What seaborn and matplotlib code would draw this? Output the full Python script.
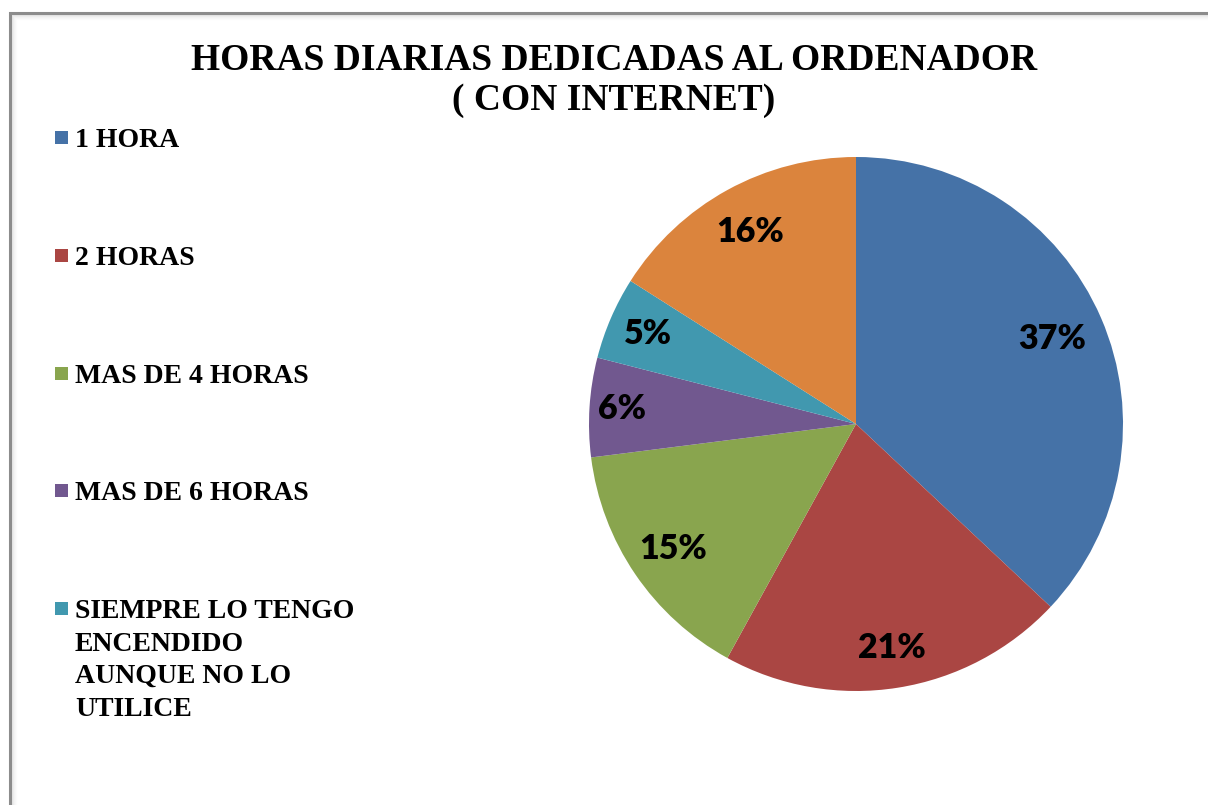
import matplotlib
matplotlib.use("Agg")
import matplotlib.pyplot as plt
import seaborn as sns
import numpy as np
from matplotlib.patches import Rectangle

categories = ["1 HORA", "2 HORAS", "MAS DE 4 HORAS", "MAS DE 6 HORAS",
              "SIEMPRE LO TENGO\nENCENDIDO\nAUNQUE NO LO\nUTILICE", "MAS DE 8 HORAS"]
values = [37, 21, 15, 6, 5, 16]
colors = ["#4572A7", "#AA4643", "#89A54E", "#71588F", "#4198AF", "#DB843D"]
title = "HORAS DIARIAS DEDICADAS AL ORDENADOR\n( CON INTERNET)"
legend_count = 5

# label placement style (Excel "best fit" look)
label_radius = [0.80, 0.85, 0.83, 0.88, 0.85, 0.82]

sns.set_theme(style="white")
palette = sns.color_palette(colors)

W, H = 1208, 805
fig = plt.figure(figsize=(W / 100, H / 100), dpi=100)
fig.patch.set_facecolor("white")

def fx(px):
    return px / W

def fy(py):
    return 1 - py / H

# frame with soft inner shadow
for i, a in enumerate([0.10, 0.07, 0.05, 0.03, 0.02, 0.01]):
    fig.add_artist(Rectangle((fx(11 + i), -0.1), 1.2, fy(14 + i) + 0.1,
                             transform=fig.transFigure, fill=False,
                             edgecolor=(0, 0, 0, a), linewidth=1.0))
fig.add_artist(Rectangle((fx(10), -0.1), 1.2, fy(13) + 0.1,
                         transform=fig.transFigure, fill=False,
                         edgecolor="#8c8c8c", linewidth=2.2))

cx, cy, r = 856, 424, 267
ax = fig.add_axes([(cx - r) / W, (H - cy - r) / H, 2 * r / W, 2 * r / H])
wedges, texts = ax.pie(values, colors=palette, startangle=90, counterclock=False,
                       labels=[f"{v}%" for v in values], labeldistance=0.82,
                       wedgeprops=dict(linewidth=0))
for t, w, d in zip(texts, wedges, label_radius):
    mid = np.deg2rad((w.theta1 + w.theta2) / 2)
    t.set_position((d * np.cos(mid), d * np.sin(mid)))
    t.set_fontfamily("Lato")
    t.set_fontweight("heavy")
    t.set_fontsize(24.5)
    t.set_color("black")
    t.set_ha("center")
    t.set_va("center")
ax.set_xlim(-1.0, 1.0)
ax.set_ylim(-1.0, 1.0)
ax.set_aspect("equal")
ax.axis("off")

title_lines = title.split("\n")
for k, line in enumerate(title_lines):
    fig.text(fx(614), fy(70 + 40 * k), line, ha="center", va="baseline",
             fontfamily="Liberation Serif", fontweight="bold", fontsize=27,
             color="black")

# legend (only the first entries are visible in the original chart)
for i in range(legend_count):
    base = 147 + 117.8 * i
    w = wedges[i]
    fig.add_artist(Rectangle((fx(55), fy(base - 3)), 13 / W, 13 / H,
                             transform=fig.transFigure,
                             facecolor=w.get_facecolor(), edgecolor="none"))
    for k, line in enumerate(categories[i].split("\n")):
        fig.text(fx(75), fy(base + 32.5 * k), line, ha="left", va="baseline",
                 fontfamily="Liberation Serif", fontweight="bold", fontsize=20,
                 color="black")

fig.savefig("out.png", dpi=100, facecolor="white")
